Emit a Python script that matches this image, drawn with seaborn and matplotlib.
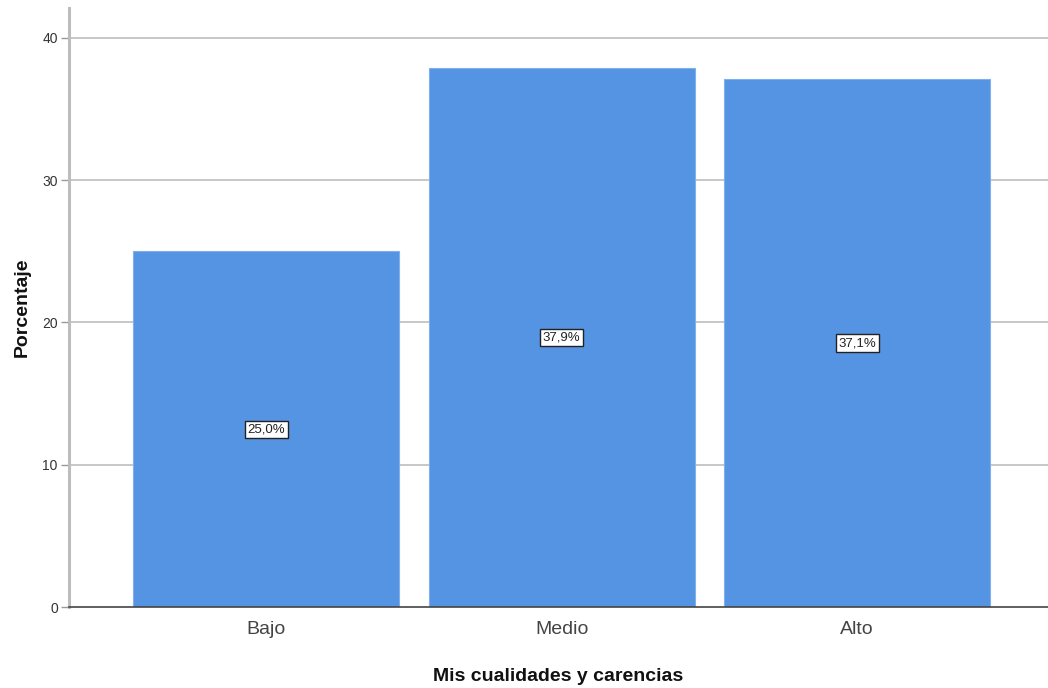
import matplotlib
matplotlib.use("Agg")
import matplotlib.pyplot as plt
import pandas as pd
import seaborn as sns

categories = ["Bajo", "Medio", "Alto"]
percentages = [25.0, 37.9, 37.1]
y_ticks = [0, 10, 20, 30, 40]

df = pd.DataFrame({"nivel": categories, "pct": percentages})

sns.set_theme(style="white")
plt.rcParams["font.family"] = ["Liberation Sans", "DejaVu Sans"]

fig = plt.figure(figsize=(10.48, 6.88), dpi=100)
ax = fig.add_axes([0.0658, 0.1177, 0.9342, 0.8706])

# horizontal grid behind bars
for t in y_ticks[1:]:
    ax.axhline(t, color="#bdbdbd", lw=1.2, zorder=0)

sns.barplot(data=df, x="nivel", y="pct", color="#5594e3", saturation=1,
            width=0.9, edgecolor="#7fb0ee", linewidth=0.8, ax=ax, zorder=2)

# labels in the middle of each bar
for i, v in enumerate(percentages):
    ax.text(i, v / 2, f"{v:.1f}%".replace(".", ","), ha="center", va="center",
            fontsize=9.5, color="#222222", zorder=3,
            bbox=dict(boxstyle="square,pad=0.2", fc="white", ec="#222222", lw=1))

ax.set_xlim(-0.667, 2.646)
ax.set_ylim(0, 42.1)
ax.set_yticks(y_ticks)
ax.set_yticklabels([str(t) for t in y_ticks], fontsize=10, color="#333333")
ax.tick_params(axis="y", length=6, width=1, color="#999999", pad=2, left=True)
ax.tick_params(axis="x", length=0, pad=10, labelsize=14, labelcolor="#444444")

for s in ["top", "right"]:
    ax.spines[s].set_visible(False)
ax.spines["left"].set_color("#bdbdbd")
ax.spines["left"].set_linewidth(2.2)
ax.spines["bottom"].set_color("#444444")
ax.spines["bottom"].set_linewidth(1.2)
ax.spines["bottom"].set_zorder(4)

ax.set_xlabel("Mis cualidades y carencias", fontsize=14, fontweight="bold",
              labelpad=22, color="#111111")
ax.set_ylabel("Porcentaje", fontsize=14, fontweight="bold", labelpad=8,
              color="#111111")

fig.savefig("out.png", dpi=100)
